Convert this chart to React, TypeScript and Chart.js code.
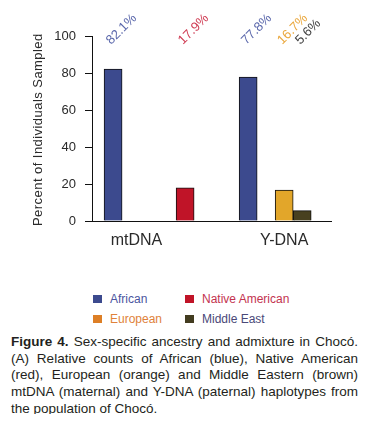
import React, { useEffect, useRef } from "react";
import { Chart, registerables } from "chart.js";

Chart.register(...registerables);

// ---- data ----
const GROUPS = ["mtDNA", "Y-DNA"];
const GROUP_START = [0, 7.5]; // x position (in bar slots) of each group's first slot
const GROUP_LABEL_POS = [1.3, 9.5]; // x position of each group's axis label
const ANCESTRIES = ["African", "Native American", "European", "Middle East"];
const SLOTS = [0, 4, 2, 3]; // slot of each ancestry inside a group
const AFRICAN = [82.1, 77.8];
const NATIVE_AMERICAN = [17.9, null];
const EUROPEAN = [null, 16.7];
const MIDDLE_EAST = [null, 5.6];
const SERIES = [AFRICAN, NATIVE_AMERICAN, EUROPEAN, MIDDLE_EAST];
const Y_TICKS = [0, 20, 40, 60, 80, 100];
const Y_TITLE = "Percent of Individuals Sampled";

// ---- styles ----
const BAR_COLORS = ["#3c4a8e", "#c01428", "#e2a62a", "#48401f"];
const LEGEND_COLORS = ["#3c4a8e", "#c01428", "#dd7f26", "#433c20"];
const LABEL_COLORS = ["#5a67ab", "#cf3a52", "#eaa73c", "#3e3e3e"];
const LEGEND_TEXT_COLORS = ["#4b55a0", "#c3334f", "#e0823a", "#4a4878"];
const FONT = "'Liberation Sans', Arial, Helvetica, sans-serif";

const valueLabels = {
  id: "valueLabels",
  afterDatasetsDraw(chart: any) {
    const ctx = chart.ctx;
    ctx.save();
    ctx.font = `13px ${FONT}`;
    ctx.textAlign = "left";
    ctx.textBaseline = "alphabetic";
    chart.data.datasets.forEach((ds: any, di: number) => {
      const meta = chart.getDatasetMeta(di);
      meta.data.forEach((el: any, i: number) => {
        const v = ds.data[i].y;
        ctx.save();
        ctx.translate(el.x - 2, 37);
        ctx.rotate(-Math.PI / 4);
        ctx.fillStyle = LABEL_COLORS[di];
        ctx.fillText(v.toFixed(1) + "%", 0, 0);
        ctx.restore();
      });
    });
    ctx.restore();
  },
};

// y-axis title drawn with slight letter spacing (the source font is tracked)
const spacedYTitle = {
  id: "spacedYTitle",
  afterDraw(chart: any) {
    const ctx = chart.ctx;
    const area = chart.chartArea;
    ctx.save();
    ctx.font = `13px ${FONT}`;
    (ctx as any).letterSpacing = "0.45px";
    ctx.fillStyle = "#2a2a2a";
    ctx.textAlign = "left";
    ctx.textBaseline = "middle";
    ctx.translate(30, area.bottom + 5);
    ctx.rotate(-Math.PI / 2);
    ctx.fillText(Y_TITLE, 0, 0);
    ctx.restore();
  },
};

function BarChart() {
  const ref = useRef<HTMLCanvasElement>(null);
  useEffect(() => {
    if (!ref.current) return;
    const datasets = ANCESTRIES.map((name, ai) => ({
      label: name,
      data: GROUPS.map((g, gi) =>
        SERIES[ai][gi] === null
          ? null
          : { x: GROUP_START[gi] + SLOTS[ai], y: SERIES[ai][gi] as number }
      ).filter((d) => d !== null),
      backgroundColor: BAR_COLORS[ai],
      borderColor: "#111",
      borderWidth: 1,
      grouped: false,
      barPercentage: 1,
      categoryPercentage: 1,
    }));
    const chart = new Chart(ref.current, {
      type: "bar",
      data: { datasets } as any,
      options: {
        responsive: false,
        animation: false,
        layout: { padding: { top: 28, right: 31, left: 0, bottom: 0 } },
        plugins: {
          legend: { display: false },
          tooltip: { enabled: false },
        },
        scales: {
          x: {
            type: "linear",
            min: -1.17,
            max: 12.1,
            offset: false,
            grid: { display: false, drawTicks: false, offset: false },
            border: { display: true, color: "#111", width: 1 },
            afterBuildTicks: (scale: any) => {
              scale.ticks = GROUP_LABEL_POS.map((v) => ({ value: v }));
            },
            afterFit: (scale: any) => {
              scale.height = 37;
            },
            ticks: {
              padding: 10,
              color: "#2a2a2a",
              font: { family: FONT, size: 16 },
              maxRotation: 0,
              autoSkip: false,
              callback: (_v: any, i: number) => GROUPS[i],
            },
          },
          y: {
            min: 0,
            max: 100,
            afterBuildTicks: (scale: any) => {
              scale.ticks = Y_TICKS.map((v) => ({ value: v }));
            },
            grid: {
              display: true,
              drawOnChartArea: false,
              drawTicks: true,
              tickLength: 7,
              color: "#111",
            },
            border: { display: true, color: "#111", width: 1 },
            afterFit: (scale: any) => {
              scale.width = 84;
            },
            ticks: {
              padding: 9,
              color: "#2a2a2a",
              font: { family: FONT, size: 13 },
            },
            title: { display: false },
          },
        },
      } as any,
      plugins: [valueLabels, spacedYTitle],
    });
    return () => chart.destroy();
  }, []);
  return (
    <canvas
      ref={ref}
      width={354}
      height={250}
      style={{ display: "block", width: 354, height: 250 }}
    />
  );
}

const CAPTION_LINES = [
  "Sex-specific ancestry and admixture in Chocó.",
  "(A) Relative counts of African (blue), Native American",
  "(red), European (orange) and Middle Eastern (brown)",
  "mtDNA (maternal) and Y-DNA (paternal) haplotypes from",
  "the population of Chocó.",
];

export default function App() {
  return (
    <div style={{ position: "relative", width: 354, height: 406, fontFamily: FONT }}>
      <BarChart />
      <div
        style={{
          position: "absolute",
          left: 85,
          top: 284.5,
          display: "grid",
          gridTemplateColumns: "92px auto",
          rowGap: 8,
        }}
      >
        {ANCESTRIES.map((name, i) => (
          <div
            key={name}
            style={{ display: "flex", alignItems: "center", height: 12 }}
          >
            <span
              style={{
                display: "inline-block",
                width: 9,
                height: 8,
                background: LEGEND_COLORS[i],
                marginRight: 8,
              }}
            />
            <span
              style={{
                fontSize: 12,
                lineHeight: "12px",
                color: LEGEND_TEXT_COLORS[i],
                whiteSpace: "nowrap",
              }}
            >
              {name}
            </span>
          </div>
        ))}
      </div>
      <div
        style={{
          position: "absolute",
          left: 3,
          top: 326,
          width: 347,
          fontSize: 13.5,
          lineHeight: "16.67px",
          color: "#231f20",
        }}
      >
        {CAPTION_LINES.map((line, i) => (
          <div
            key={i}
            style={{
              whiteSpace: "nowrap",
              textAlign: i === CAPTION_LINES.length - 1 ? "left" : "justify",
              textAlignLast: i === CAPTION_LINES.length - 1 ? "left" : "justify",
            }}
          >
            {i === 0 ? <b>Figure 4. </b> : null}
            {line}
          </div>
        ))}
      </div>
    </div>
  );
}
